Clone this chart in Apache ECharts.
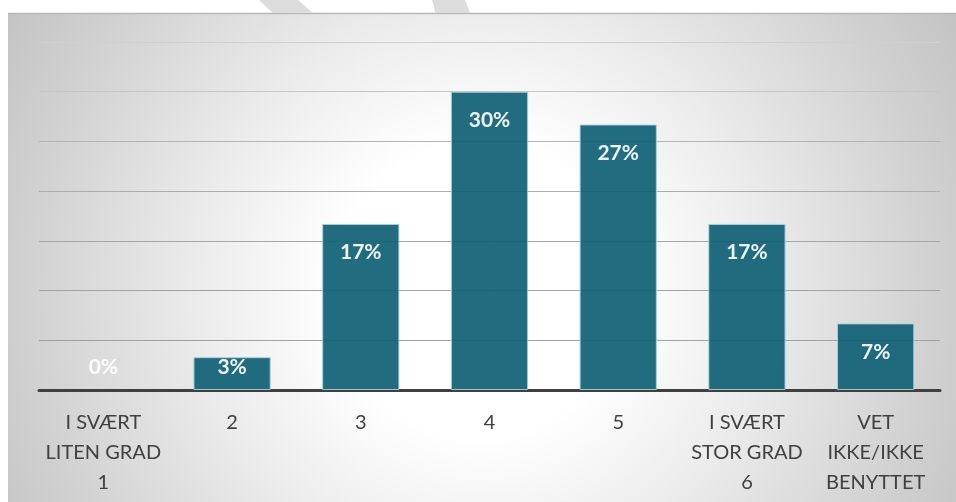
<!DOCTYPE html>
<html>
<head>
<meta charset="utf-8">
<script src="https://cdn.jsdelivr.net/npm/echarts@6/dist/echarts.min.js"></script>
<style>
  html, body { margin: 0; padding: 0; background: #ffffff; }
  #chart { width: 956px; height: 502px; }
</style>
</head>
<body>
<div id="chart"></div>
<script>
// Answer categories (x axis)
const categories = [
  'I SVÆRT\nLITEN GRAD\n1',
  '2',
  '3',
  '4',
  '5',
  'I SVÆRT\nSTOR GRAD\n6',
  'VET\nIKKE/IKKE\nBENYTTET'
];

// Share of responses per category, in percent
const shares = [0, 3.3, 16.7, 30, 26.7, 16.7, 6.7];

// Value axis range (percent)
const yMin = 0;
const yMax = 35;
const yStep = 5;

const chart = echarts.init(document.getElementById('chart'), null, { renderer: 'canvas' });

// Short bars get their label anchored at the base instead of the top
const barData = shares.map(function (v) {
  const short = v < 5;
  return {
    value: v,
    itemStyle: v === 0 ? { borderWidth: 0 } : undefined,
    label: short
      ? { position: 'insideBottom', distance: 12 }
      : { position: 'insideTop', distance: 18 }
  };
});

chart.setOption({
  animation: false,
  backgroundColor: '#ffffff',
  graphic: [
    {
      type: 'rect',
      z: -10,
      shape: { x: 8, y: 13, width: 948, height: 489 },
      style: {
        fill: {
          type: 'radial', global: true, x: 480, y: 290, r: 560,
          colorStops: [
            { offset: 0, color: '#ffffff' },
            { offset: 0.26, color: '#ffffff' },
            { offset: 0.5, color: '#ececec' },
            { offset: 0.82, color: '#d0d0d0' },
            { offset: 1, color: '#c2c2c2' }
          ]
        }
      },
      silent: true
    },
    {
      type: 'line', z: -9, silent: true,
      shape: { x1: 8, y1: 13.5, x2: 956, y2: 13.5 },
      style: { stroke: '#b8b8b8', lineWidth: 1.5 }
    },
    {
      type: 'polygon', z: -9, silent: true,
      shape: { points: [[259, 0], [298, 0], [313, 13], [273, 13]] },
      style: { fill: '#dcdcdc' }
    },
    {
      type: 'polygon', z: -9, silent: true,
      shape: { points: [[432, 0], [465, 0], [468, 7], [470, 13], [435, 13], [434, 6]] },
      style: { fill: '#dcdcdc' }
    }
  ],
  grid: { left: 39, right: 16, top: 42, bottom: 112, containLabel: false },
  xAxis: {
    type: 'category',
    data: categories,
    axisTick: { show: false },
    axisLine: { show: true, lineStyle: { color: '#404040', width: 3 } },
    axisLabel: {
      interval: 0,
      margin: 18,
      color: '#404040',
      fontFamily: 'Lato',
      fontSize: 20,
      lineHeight: 30,
      align: 'center'
    }
  },
  yAxis: {
    type: 'value',
    min: yMin,
    max: yMax,
    interval: yStep,
    axisLabel: { show: false },
    axisLine: { show: false },
    axisTick: { show: false },
    splitLine: {
      show: true,
      lineStyle: {
        width: 1,
        color: ['#a0a0a0', '#a0a0a0', '#a2a2a2', '#a6a6a6', '#acacac', '#b4b4b4', '#c6c6c6', '#d0d0d0']
      }
    }
  },
  series: [{
    type: 'bar',
    data: barData,
    barWidth: '60%',
    itemStyle: {
      color: '#0f5f75',
      opacity: 0.92,
      borderColor: '#a9d0da',
      borderWidth: 1
    },
    label: {
      show: true,
      color: '#ffffff',
      fontFamily: 'Lato',
      fontWeight: 'bold',
      fontSize: 21,
      formatter: function (p) { return Math.round(p.value) + '%'; }
    }
  }]
});
</script>
</body>
</html>
